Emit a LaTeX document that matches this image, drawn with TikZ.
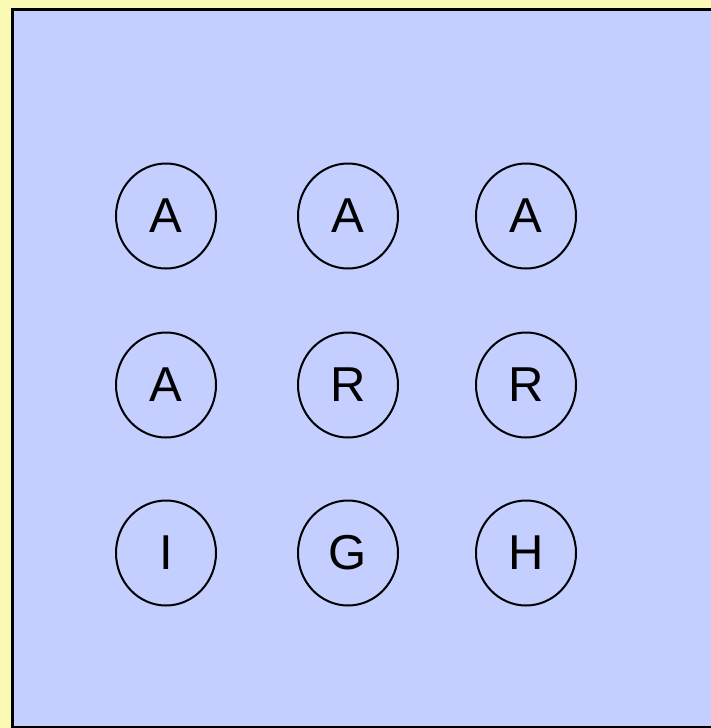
\documentclass[tikz,border=0pt]{standalone}
\usepackage{fontspec}
\setmainfont{Liberation Sans}
\usetikzlibrary{shapes.geometric, positioning}
\definecolor{paper}{RGB}{250,250,180}
\definecolor{board}{RGB}{196,206,255}

\begin{document}
\begin{tikzpicture}[x=1pt, y=-1pt,
		cell/.style={shape=ellipse, draw=black, line width=2pt, inner sep=0pt,
			minimum width=100pt, minimum height=105pt,
			font=\fontsize{49}{56}\selectfont}]
				\fill[paper] (0,0) rectangle (711,728);
				\useasboundingbox (0,0) rectangle (711,728);
				\filldraw[fill=board, draw=black, line width=3pt] (12,9) rectangle (716,727);
				% grid of letters
				\node[cell] (a1) at (166,216) {A};
				\node[cell] (a2) at (348,216) {A};
				\node[cell] (a3) at (526,216) {A};
				\node[cell] (b1) at (166,385) {A};
				\node[cell] (b2) at (348,385) {R};
				\node[cell] (b3) at (526,385) {R};
				\node[cell] (c1) at (166,553) {I};
				\node[cell] (c2) at (348,553) {G};
				\node[cell] (c3) at (526,553) {H};
			\end{tikzpicture}
\end{document}
